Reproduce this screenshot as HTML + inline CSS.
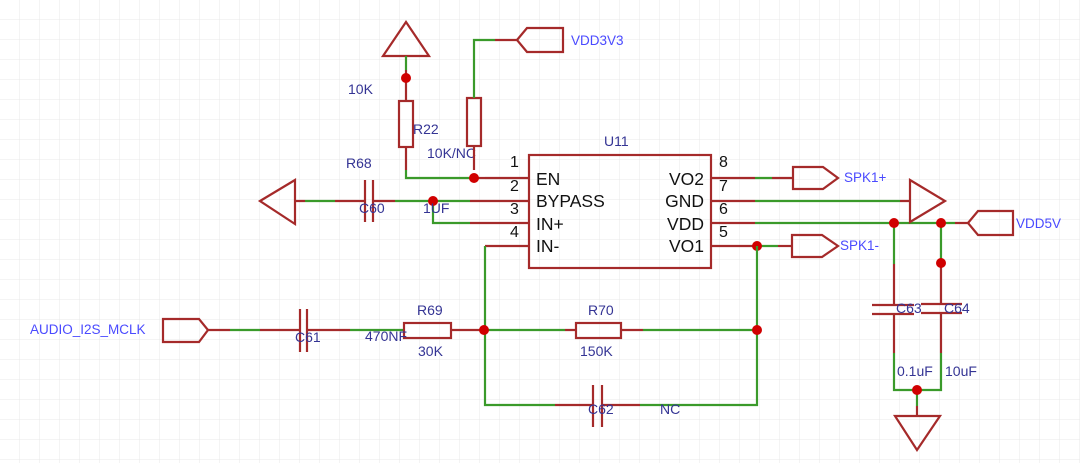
<!DOCTYPE html>
<html><head><style>
html,body{margin:0;padding:0;background:#fff}
svg{display:block}
text{font-family:"Liberation Sans",sans-serif}
.r{stroke:#a52a2a;stroke-width:2.2;fill:none}
.g{stroke:#3a9a2a;stroke-width:2.2;fill:none}
.d{fill:#d00000}
.lb{fill:#343494;font-size:14px}
.nb{fill:#4a4aff;font-size:13.5px}
.pn{fill:#111;font-size:16px}
.pt{fill:#111;font-size:17.5px}
</style></head><body>
<svg width="1080" height="463" viewBox="0 0 1080 463">
<defs><pattern id="gr" width="20" height="20" patternUnits="userSpaceOnUse"><path d="M20 0V20H0" fill="none" stroke="#e9e9e9" stroke-width="1"/></pattern></defs>
<rect width="1080" height="463" fill="url(#gr)"/>

<!-- U11 -->
<rect x="529" y="155" width="182" height="113" class="r"/>
<text x="604" y="146" class="lb">U11</text>
<path class="r" d="M485 178H529M485 201H529M485 223H529M485 246H529M711 178H755M711 201H755M711 223H755M711 246H755"/>
<text x="510" y="167" class="pn">1</text><text x="510" y="191" class="pn">2</text><text x="510" y="214" class="pn">3</text><text x="510" y="237" class="pn">4</text>
<text x="719" y="167" class="pn">8</text><text x="719" y="191" class="pn">7</text><text x="719" y="214" class="pn">6</text><text x="719" y="237" class="pn">5</text>
<text x="536" y="185" class="pt">EN</text><text x="536" y="207" class="pt">BYPASS</text><text x="536" y="230" class="pt">IN+</text><text x="536" y="252" class="pt">IN-</text>
<text x="704" y="185" class="pt" text-anchor="end">VO2</text><text x="704" y="207" class="pt" text-anchor="end">GND</text><text x="704" y="230" class="pt" text-anchor="end">VDD</text><text x="704" y="252" class="pt" text-anchor="end">VO1</text>

<!-- R22 and top triangle -->
<path class="r" d="M383 56H429L406 22Z"/>
<path class="g" d="M406 56V70"/>
<path class="r" d="M406 70V101M406 147V170"/>
<rect x="399" y="101" width="14" height="46" class="r"/>
<path class="g" d="M406 170V178H474"/>
<path class="r" d="M474 178H485"/>
<circle cx="406" cy="78" r="5" class="d"/>
<circle cx="474" cy="178" r="5" class="d"/>
<text x="348" y="94" class="lb">10K</text><text x="413" y="134" class="lb">R22</text><text x="427" y="158" class="lb">10K/NC</text>
<!-- NC resistor -->
<rect x="467" y="98" width="14" height="48" class="r"/>
<path class="g" d="M474 98V40H495"/>
<path class="r" d="M474 146V170M495 40H517"/>
<path class="r" d="M517 40L527 28H563V52H527Z"/>
<text x="571" y="45" class="nb">VDD3V3</text>

<!-- Bypass -->
<path class="r" d="M260 201L295 180V224Z"/>
<path class="r" d="M295 201H305M335 201H365M373 201H395"/>
<path class="g" d="M305 201H335M395 201H433H470M433 201V223H470"/>
<path class="r" d="M470 201H485M470 223H485"/>
<path class="r" d="M365 180V222M373 180V222"/>
<circle cx="433" cy="201" r="5" class="d"/>
<text x="346" y="168" class="lb">R68</text><text x="359" y="213" class="lb">C60</text><text x="423" y="213" class="lb">1UF</text>

<!-- right side -->
<path class="g" d="M755 178H772M755 201H900M755 223H955"/>
<path class="r" d="M772 178H793M900 201H910M955 223H968"/>
<path class="r" d="M793 167H823L838 178L823 189H793Z"/>
<text x="844" y="182" class="nb">SPK1+</text>
<path class="r" d="M910 180V222L945 201Z"/>
<path class="r" d="M968 223L978 211H1013V235H978Z"/>
<text x="1016" y="228" class="nb">VDD5V</text>
<path class="g" d="M757 246H778"/>
<path class="r" d="M778 246H792"/>
<path class="r" d="M792 235H822L838 246L822 257H792Z"/>
<text x="840" y="250" class="nb">SPK1-</text>
<circle cx="757" cy="246" r="5" class="d"/>
<!-- C63/C64 -->
<path class="g" d="M894 223V264M941 223V263"/>
<path class="r" d="M894 264V305M894 314V353M941 263V304M941 313V353"/>
<path class="r" d="M872 305H914M872 314H914M921 304H962M921 313H962"/>
<path class="g" d="M894 353V390H941V353M917 390V406"/>
<path class="r" d="M917 406V416M895 416H940L917 450Z"/>
<circle cx="894" cy="223" r="5" class="d"/><circle cx="941" cy="223" r="5" class="d"/>
<circle cx="941" cy="263" r="5" class="d"/><circle cx="917" cy="390" r="5" class="d"/>
<text x="896" y="313" class="lb">C63</text><text x="944" y="313" class="lb">C64</text>
<text x="897" y="376" class="lb">0.1uF</text><text x="945" y="376" class="lb">10uF</text>

<!-- bottom -->
<text x="30" y="334" class="nb">AUDIO_I2S_MCLK</text>
<path class="r" d="M163 319H199L208 330L199 342H163Z"/>
<path class="r" d="M208 330H230M260 330H300M307 330H350M451 330H484M565 330H576M621 330H643"/>
<path class="g" d="M230 330H260M350 330H404M484 330H565M643 330H757"/>
<path class="r" d="M300 309V352M307 309V352"/>
<rect x="404" y="323" width="47" height="15" class="r"/>
<rect x="576" y="323" width="45" height="15" class="r"/>
<path class="g" d="M485 246V405H555M640 405H757V246"/>
<path class="r" d="M555 405H593M602 405H640M593 385V427M602 385V427"/>
<circle cx="484" cy="330" r="5" class="d"/><circle cx="757" cy="330" r="5" class="d"/>
<text x="295" y="342" class="lb">C61</text><text x="365" y="341" class="lb">470NF</text>
<text x="417" y="315" class="lb">R69</text><text x="418" y="356" class="lb">30K</text>
<text x="588" y="315" class="lb">R70</text><text x="580" y="356" class="lb">150K</text>
<text x="588" y="414" class="lb">C62</text><text x="660" y="414" class="lb">NC</text>
</svg>
</body></html>
